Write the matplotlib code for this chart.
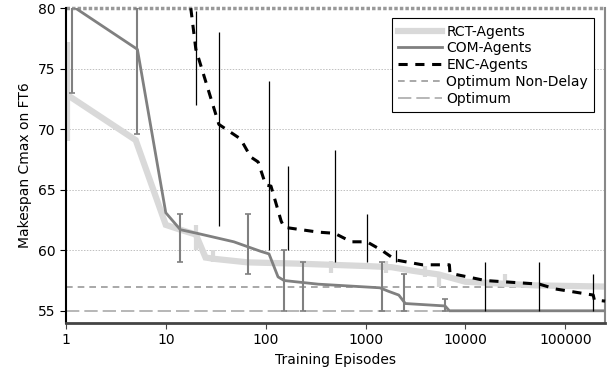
import numpy as np
from matplotlib import pyplot as plt
from matplotlib.ticker import FixedLocator, NullLocator, FixedFormatter

# series
rct_x = [1.05, 5, 10, 14, 20, 25, 30, 66, 200, 1000, 1830, 3000, 5400, 10000, 50000, 250000]
rct_y = [72.8, 69.1, 62.1, 61.7, 61.3, 59.4, 59.3, 59.0, 58.9, 58.7, 58.6, 58.3, 58.0, 57.4, 57.1, 57.0]
rct_err_x = [1.05, 20, 30, 450, 1600, 3900, 5400, 25000]
rct_err_lo = [69.0, 60.0, 59.0, 58.1, 58.1, 57.8, 57.0, 57.3]
rct_err_hi = [77.2, 62.1, 60.0, 59.1, 59.1, 58.7, 57.8, 58.0]

com_x = [1.15, 5.2, 10, 14, 20.6, 48, 71, 90, 108, 133, 153, 335, 1390, 1710, 2150, 2500, 6250, 6900, 250000]
com_y = [80.2, 76.6, 63.1, 61.7, 61.4, 60.7, 60.2, 59.9, 59.7, 57.8, 57.5, 57.2, 56.9, 56.6, 56.3, 55.6, 55.4, 55.0, 55.0]
com_err_x = [1.15, 5.2, 14, 66, 153, 237, 1450, 2400, 6300]
com_err_lo = [73.0, 69.6, 59.0, 58.0, 55.0, 55.0, 55.0, 55.0, 55.0]
com_err_hi = [80.2, 80.0, 63.0, 63.0, 60.0, 59.0, 59.0, 58.0, 56.0]

enc_x = [17.8, 20, 34, 56, 71, 84, 100, 113, 143, 153, 335, 490, 720, 1030, 1450, 2000, 3700, 6900, 7000,
         15800, 55000, 80000, 190000, 195000, 250000]
enc_y = [80.0, 76.6, 70.4, 69.2, 67.7, 67.3, 65.4, 65.3, 62.4, 61.9, 61.5, 61.4, 60.7, 60.7, 60.0, 59.2, 58.8,
         58.8, 58.1, 57.5, 57.2, 56.8, 56.3, 55.9, 55.8]
enc_err_x = [20, 34, 108, 168, 490, 1030, 2000, 15800, 55000, 190000]
enc_err_lo = [72.0, 62.0, 60.0, 60.0, 59.0, 59.0, 59.0, 55.0, 55.0, 55.0]
enc_err_hi = [79.8, 78.0, 74.0, 67.0, 68.3, 63.0, 60.0, 59.0, 59.0, 58.0]

opt_nodelay = 57
opt = 55

x_ticks = [1, 10, 100, 1000, 10000, 100000]
y_ticks = [55, 60, 65, 70, 75, 80]

fig = plt.figure(figsize=(6.1, 3.72), dpi=100)
ax = fig.add_axes([0.108, 0.132, 0.884, 0.846])

ax.set_xscale('log')
ax.set_xlim(1, 250000)
ax.set_ylim(54, 80)

for y in [60, 65, 70, 75]:
    ax.axhline(y, color='#c0c0c0', lw=0.7, ls=(0, (1.5, 1.5)), zorder=0)
ax.axhline(80, color='#999999', lw=2.5, ls=(0, (1, 0.6)), zorder=0, clip_on=False)

ax.axhline(opt_nodelay, color='#999999', lw=1.2, ls=(0, (4, 3)), label='Optimum Non-Delay', zorder=1)
ax.axhline(opt, color='#aaaaaa', lw=1.2, ls=(0, (8, 3)), label='Optimum', zorder=1)

ax.plot(rct_x, rct_y, color='#d9d9d9', lw=4.5, label='RCT-Agents', zorder=2, solid_joinstyle='miter')
ax.vlines(rct_err_x, rct_err_lo, rct_err_hi, color='#d9d9d9', lw=3, zorder=2)

ax.plot(com_x, com_y, color='#808080', lw=2, label='COM-Agents', zorder=3)
ax.vlines(com_err_x, com_err_lo, com_err_hi, color='#808080', lw=1.5, zorder=3)
ax.plot(com_err_x + com_err_x, com_err_lo + com_err_hi, ls='none', marker='_', ms=5,
        mew=1.2, color='#808080', zorder=3)

ax.plot(enc_x, enc_y, color='black', lw=2.2, ls=(0, (3, 2.5)), label='ENC-Agents', zorder=4, clip_on=False)
ax.vlines(enc_err_x, enc_err_lo, enc_err_hi, color='black', lw=0.9, zorder=4)

ax.xaxis.set_major_locator(FixedLocator(x_ticks))
ax.xaxis.set_major_formatter(FixedFormatter([str(v) for v in x_ticks]))
ax.xaxis.set_minor_locator(NullLocator())
ax.set_yticks(y_ticks)

ax.spines['top'].set_visible(False)
ax.spines['left'].set_color('black')
ax.spines['left'].set_linewidth(1.5)
ax.spines['bottom'].set_color('#444444')
ax.spines['bottom'].set_linewidth(2)
ax.spines['right'].set_color('#888888')
ax.spines['right'].set_linewidth(1.5)
ax.tick_params(axis='both', labelsize=10, direction='out', length=4)
ax.tick_params(axis='x', colors='#444444', labelcolor='black')

ax.set_xlabel('Training Episodes', fontsize=10)
ax.set_ylabel('Makespan Cmax on FT6', fontsize=10)

h, l = ax.get_legend_handles_labels()
order = [l.index(n) for n in ['RCT-Agents', 'COM-Agents', 'ENC-Agents', 'Optimum Non-Delay', 'Optimum']]
leg = ax.legend([h[i] for i in order], [l[i] for i in order], loc='upper right',
                bbox_to_anchor=(0.993, 0.99), fancybox=False, framealpha=1, edgecolor='black',
                fontsize=10, handlelength=3.2, handletextpad=0.3, borderpad=0.45, labelspacing=0.2)
leg.get_frame().set_linewidth(0.8)

fig.savefig('out.png', dpi=100)
